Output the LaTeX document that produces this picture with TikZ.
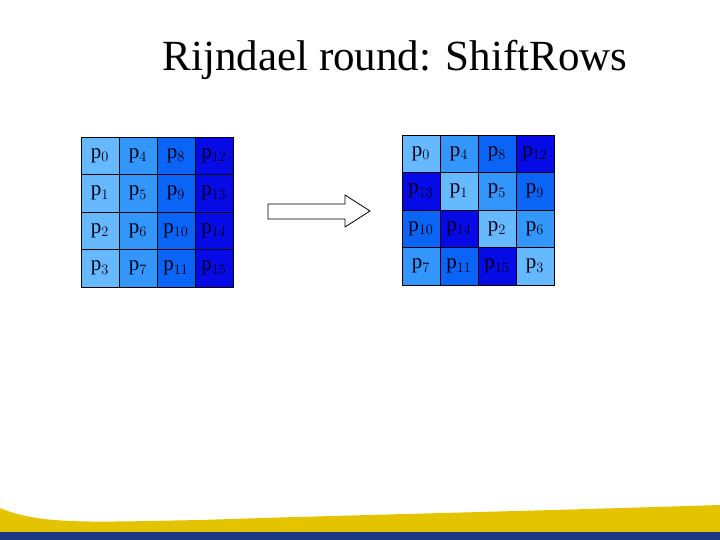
\documentclass[tikz,border=0pt]{standalone}
\usepackage{fontspec}
\setmainfont{Liberation Serif}
\definecolor{c0}{RGB}{102,185,255}
\definecolor{c1}{RGB}{51,150,250}
\definecolor{c2}{RGB}{10,100,245}
\definecolor{c3}{RGB}{5,10,230}
\definecolor{ylw}{RGB}{228,196,0}
\definecolor{nvy}{RGB}{30,55,130}
\begin{document}
\begin{tikzpicture}[x=1pt,y=-1pt,
  cell/.style={draw=black,line width=0.8pt,minimum width=38pt,minimum height=37.5pt,inner sep=0pt,font=\fontsize{21}{23}\selectfont,text=black!90!blue}]
\useasboundingbox (0,0) rectangle (720,540);
\fill[white] (0,0) rectangle (720,540);
\node (title) at (395,60) {\fontsize{43}{46}\selectfont Rijndael round: ShiftRows};
\foreach \r in {0,1,2,3}{
  \foreach \c in {0,1,2,3}{
    \pgfmathtruncatemacro{\idx}{4*\c+\r}
    \node[cell,fill=c\c] (L\r\c) at ({81+19+38*\c},{137+18.75+37.5*\r}) {p$_{\idx}$};
    \pgfmathtruncatemacro{\oc}{mod(\c-\r+4,4)}
    \pgfmathtruncatemacro{\jdx}{4*\oc+\r}
    \node[cell,fill=c\oc] (R\r\c) at ({402+19+38*\c},{135+18.75+37.5*\r}) {p$_{\jdx}$};
  }}
\draw[line width=0.8pt,fill=white] (268,204) -- (345,204) -- (345,195) -- (370,211) -- (345,227) -- (345,219) -- (268,219) -- cycle;
\fill[ylw] (0,508) .. controls (40,525) and (90,522) .. (200,520) .. controls (350,515) and (500,512) .. (720,505) -- (720,532) -- (0,532) -- cycle;
\fill[nvy] (0,532) rectangle (720,540);
\end{tikzpicture}
\end{document}
